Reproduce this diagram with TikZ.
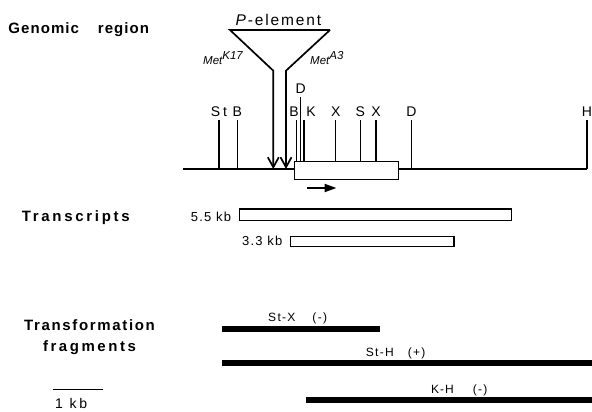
\documentclass[tikz,border=0pt]{standalone}
\usepackage{fontspec}
\setmainfont{Liberation Sans}
\usetikzlibrary{arrows.meta}
\newcommand{\spaced}[2]{{\addfontfeatures{LetterSpace=#1}#2}}
\begin{document}
\begin{tikzpicture}[x=1pt,y=-1pt,
  heading/.style={font=\fontsize{15}{18}\selectfont\bfseries, inner sep=0pt, anchor=base west},
  site/.style={font=\fontsize{14}{16}\selectfont, inner sep=0pt, anchor=base},
  sizelabel/.style={font=\fontsize{13}{15}\selectfont, inner sep=0pt, anchor=base west},
  fraglabel/.style={font=\fontsize{12}{14}\selectfont, inner sep=0pt, anchor=base west},
  metlabel/.style={font=\fontsize{11.5}{13}\selectfont\itshape, inner sep=0pt, anchor=base west},
  dna/.style={line width=1.5pt},
  sitetick/.style={line width=1.2pt},
  exon/.style={draw, fill=white, line width=1.4pt, inner sep=0pt, anchor=north west},
  transcript/.style={draw, fill=white, line width=1.3pt, inner sep=0pt, anchor=north west},
  fragment/.style={line width=6.3pt},
  insertion/.style={line width=1.7pt, line join=miter, -{Straight Barb[length=10pt,width=11pt]}},
]
\useasboundingbox (0,0) rectangle (592,412);

% ---------- section headings ----------
\node[heading] (hGen) at (8.3,33.3) {\spaced{7}{Genomic}\hspace{19pt}\spaced{7}{region}};
\node[heading] (hTra) at (21.7,221) {\spaced{18}{Transcripts}};
\node[heading, anchor=base] (hFra1) at (89.5,330.7) {\spaced{11}{Transformation}};
\node[heading, anchor=base] (hFra2) at (89.5,351.7) {\spaced{17}{fragments}};

% ---------- genomic map ----------
\coordinate (mapL) at (183,169);
\coordinate (mapR) at (587,169);
\draw[dna] (mapL) -- (mapR);

% restriction sites outside the gene
\node[site] (sSt) at (219,117) {\spaced{20}{St}};
\node[site] (sB1) at (237.3,117) {B};
\node[site] (sD2) at (411.5,117) {D};
\node[site] (sH)  at (587,117) {H};
\foreach \s in {sSt,sB1,sD2,sH}
  \draw[sitetick] ([yshift=-3pt]\s.base) -- (\s.base |- mapL);

% gene body
\node[exon, minimum width=104pt, minimum height=17.5pt] (gene) at (294,161) {};

% restriction sites inside the gene
\node[site] (sB2) at (294,117) {B};
\node[site] (sD1) at (300.7,94) {D};
\node[site] (sK)  at (311,117) {K};
\node[site] (sX1) at (335.7,117) {X};
\node[site] (sS)  at (360.3,117) {S};
\node[site] (sX2) at (376,117) {X};
\coordinate (tB2) at (296.7,120);
\coordinate (tD1) at (300.7,97);
\coordinate (tK)  at (304,120);
\draw[sitetick] (tB2) -- (tB2 |- gene.north);
\draw[sitetick] (tD1) -- (tD1 |- gene.north);
\draw[sitetick] (tK)  -- (tK |- gene.north);
\foreach \s in {sX1,sS,sX2}
  \draw[sitetick] ([yshift=-3pt]\s.base) -- (\s.base |- gene.north);

% direction of transcription
\coordinate (dirA) at (307,188);
\coordinate (dirB) at (336.5,188);
\draw[line width=2pt, -{Triangle[length=12pt,width=8pt]}] (dirA) -- (dirB);

% ---------- P-element insertions ----------
\coordinate (pL) at (230,30);
\coordinate (pR) at (330,30);
\coordinate (nL) at (273.3,70.7);
\coordinate (nR) at (286,70.7);
\draw[insertion] (pR) -- (pL) -- (nL) -- (nL |- mapL);
\draw[insertion] (pR) -- (nR) -- (nR |- mapL);
\node[font=\fontsize{15.5}{18}\selectfont, inner sep=0pt, anchor=base] (pel) at (278.5,26)
  {\spaced{12}{\textit{P}-element}};
\node[metlabel] (mK17) at (203,65) {Met\raisebox{5pt}{K17}};
\node[metlabel] (mA3)  at (310,65) {Met\raisebox{5pt}{A3}};

% ---------- transcripts ----------
\node[transcript, minimum width=271.7pt, minimum height=11.7pt] (t55) at (239,208.3) {};
\node[transcript, minimum width=163.3pt, minimum height=10pt] (t33) at (290,235.7) {};
\node[sizelabel] (l55) at (190.7,221) {\spaced{9}{5.5 kb}};
\node[sizelabel] (l33) at (242,245.5) {\spaced{9}{3.3 kb}};

% ---------- transformation fragments ----------
\coordinate (fSXa) at (221.7,329.2);
\coordinate (fSXb) at (380,329.2);
\coordinate (fSHa) at (221.7,363);
\coordinate (fSHb) at (592,363);
\coordinate (fKHa) at (306,399.7);
\coordinate (fKHb) at (592,399.7);
\draw[fragment] (fSXa) -- (fSXb);
\draw[fragment] (fSHa) -- (fSHb);
\draw[fragment] (fKHa) -- (fKHb);
\node[fraglabel] (lSX) at (268,321.7) {\spaced{11}{St-X}\hspace{17pt}\spaced{11}{(-)}};
\node[fraglabel] (lSH) at (365.7,356.3) {\spaced{11}{St-H}\hspace{14pt}\spaced{11}{(+)}};
\node[fraglabel] (lKH) at (431,393.3) {\spaced{8}{K-H}\hspace{19pt}\spaced{11}{(-)}};

% ---------- scale bar ----------
\coordinate (sbA) at (52.7,389.3);
\coordinate (sbB) at (103.3,389.3);
\draw[line width=1.2pt] (sbA) -- (sbB);
\node[font=\fontsize{14}{16}\selectfont, inner sep=0pt, anchor=base west] (sbl) at (55,408) {\spaced{20}{1 kb}};
\end{tikzpicture}
\end{document}
